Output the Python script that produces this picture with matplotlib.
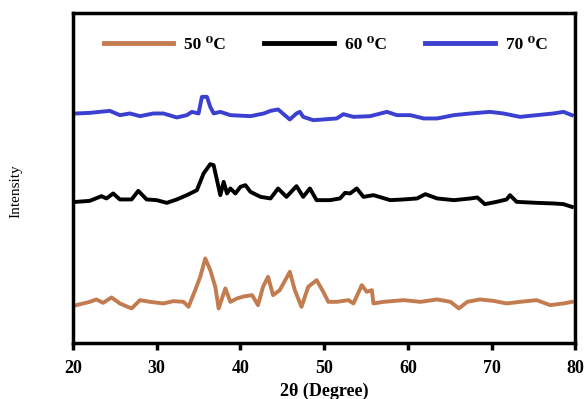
import matplotlib
matplotlib.use("Agg")
import matplotlib.pyplot as plt

# 2-theta positions and intensities (arbitrary units)
theta_50 = [20.4, 22.0, 22.8, 23.6, 24.6, 25.6, 27.0, 28.0, 29.2, 30.8, 32.0, 33.2, 33.8,
            34.6, 35.2, 35.8, 36.4, 37.0, 37.4, 38.2, 38.8, 39.6, 40.4, 41.4, 42.1, 42.7,
            43.3, 43.9, 44.7, 45.9, 46.5, 47.3, 48.1, 49.1, 49.9, 50.5, 51.5, 52.9, 53.5,
            54.5, 55.1, 55.7, 55.9, 57.1, 59.5, 61.5, 63.5, 65.1, 66.1, 67.1, 68.6, 70.2,
            71.8, 73.4, 75.4, 77.0, 78.6, 79.6]
int_50 = [38, 41.3, 43.7, 40.3, 45.7, 39.7, 34.7, 43, 41.3, 39.7, 42, 41.3, 36.3,
          53, 66.3, 84.7, 73, 56.3, 34.7, 54.7, 41.3, 44.7, 46.7, 48, 38, 56.3,
          66.3, 48, 53, 71.3, 53, 36.3, 56.3, 63, 51.3, 41.3, 41.3, 43, 39.7,
          58, 51.3, 53, 39.7, 41.3, 43, 41.3, 43.7, 41.3, 34.7, 41.3, 43.7, 42.3,
          39.7, 41.3, 43, 38, 39.7, 41.3]

theta_60 = [20.4, 22.0, 23.4, 24.0, 24.8, 25.6, 27.0, 27.8, 28.8, 30.0, 31.2, 32.4, 33.6,
            34.8, 35.6, 36.4, 36.8, 37.2, 37.6, 38.0, 38.4, 38.8, 39.4, 40.0, 40.6, 41.2,
            42.4, 43.6, 44.5, 45.5, 46.7, 47.5, 48.3, 49.1, 50.7, 51.9, 52.5, 53.1, 53.9,
            54.7, 55.9, 57.9, 59.5, 61.1, 62.1, 63.5, 65.5, 67.5, 68.3, 69.2, 70.6, 71.8,
            72.2, 73.0, 75.4, 77.4, 78.6, 79.6]
int_60 = [141.3, 142.3, 147, 144.7, 149.7, 143.7, 143.7, 152.3, 143.7, 143, 140.3, 143.7, 148,
          153, 169.7, 179, 178, 163, 148, 161.3, 149.7, 154.7, 149.7, 156.3, 158, 151.3,
          146.3, 144.7, 154.7, 146.3, 157, 146.3, 154.7, 143, 143, 144.7, 150.3, 149.7, 154.7,
          146.3, 148, 143, 143.7, 144.7, 149, 144.7, 143, 144.7, 145.7, 139, 141.3, 143.7,
          148, 141.3, 140.3, 139.7, 139, 136.3]

theta_70 = [20.4, 22.0, 24.4, 25.6, 26.8, 28.0, 29.6, 30.8, 32.4, 33.6, 34.2, 35.0, 35.4,
            36.0, 36.4, 36.8, 37.6, 38.8, 41.2, 42.8, 43.6, 44.5, 45.3, 45.9, 46.7, 47.1,
            47.5, 48.7, 49.9, 51.5, 52.3, 53.5, 55.5, 57.5, 58.7, 60.3, 61.9, 63.5, 65.5,
            67.5, 69.8, 71.4, 73.4, 75.4, 77.4, 78.6, 79.6]
int_70 = [229.7, 230.3, 232.3, 228, 229.7, 227, 229.7, 229.7, 225.7, 228, 231.3, 229.7, 246.3,
          246.3, 236.3, 229.7, 231.3, 228, 227, 229.7, 232.3, 233.7, 228, 223.7, 229.7, 231.3,
          226.3, 223, 223.7, 224.7, 229, 226.3, 227, 231.3, 228, 228, 224.7, 224.7, 228,
          229.7, 231.3, 229.7, 226.3, 228, 229.7, 231.3, 228]

labels = ["50 \u2070C", "60 \u2070C", "70 \u2070C"]
xticks = [20, 30, 40, 50, 60, 70, 80]

serif = ["Liberation Serif", "DejaVu Serif"]
plt.rcParams["font.family"] = serif

fig = plt.figure(figsize=(5.84, 3.99), dpi=100)
ax = fig.add_axes([0.125, 0.14, 0.86, 0.827])

ax.plot(theta_50, int_50, color="#C27C50", lw=2.8, label=labels[0])
ax.plot(theta_60, int_60, color="black", lw=2.8, label=labels[1])
ax.plot(theta_70, int_70, color="#3B40D0", lw=2.8, label=labels[2])

ax.set_xlim(20, 80)
ax.set_ylim(0, 330)
ax.set_xticks(xticks)
ax.set_yticks([])
for s in ax.spines.values():
    s.set_linewidth(2.5)
ax.tick_params(axis="x", direction="out", length=5, width=2.5, pad=7)
for t in ax.get_xticklabels():
    t.set_fontsize(13)
    t.set_fontweight("bold")

ax.set_xlabel("2\u03b8 (Degree)", fontsize=13, fontweight="bold", labelpad=4)
ax.set_ylabel("Intensity", fontsize=11)
ax.yaxis.set_label_coords(-0.10, 0.46)

leg = ax.legend(loc="upper left", bbox_to_anchor=(0.03, 0.975), ncol=3, frameon=False,
                handlelength=4.0, handletextpad=0.65, columnspacing=2.2,
                prop={"family": serif, "weight": "bold", "size": 12.5})
for line in leg.get_lines():
    line.set_linewidth(3.5)

fig.savefig("out.png", dpi=100)
